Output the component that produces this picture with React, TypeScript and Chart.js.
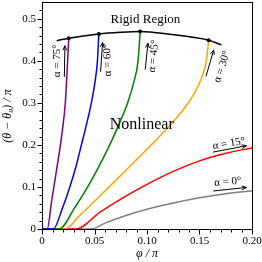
import { useEffect, useRef } from "react";
import { Chart, registerables } from "chart.js";
Chart.register(...registerables);

// ---- data (x = φ/π, y = (θ−θ0)/π) ----
const purpleX = [0, 0.005, 0.0093, 0.0146, 0.0192, 0.0222, 0.0240, 0.0255];
const purpleY = [0, 0, 0.069, 0.152, 0.23, 0.3, 0.38, 0.454];
const blueX = [0, 0.0108, 0.0195, 0.0265, 0.0325, 0.0375, 0.0425, 0.047, 0.0505, 0.0528, 0.0541];
const blueY = [0, 0, 0.05, 0.1, 0.15, 0.2, 0.25, 0.3, 0.35, 0.4, 0.464];
const greenX = [0, 0.0165, 0.031, 0.0435, 0.0545, 0.0645, 0.0735, 0.0815, 0.0875, 0.0915, 0.0935];
const greenY = [0, 0, 0.05, 0.1, 0.15, 0.2, 0.25, 0.3, 0.35, 0.4, 0.47];
const orangeX = [0, 0.022, 0.035, 0.05, 0.07, 0.09, 0.11, 0.125, 0.137, 0.146, 0.152, 0.1565, 0.1587];
const orangeY = [0, 0, 0.03, 0.066, 0.115, 0.165, 0.215, 0.255, 0.292, 0.327, 0.36, 0.4, 0.449];
const redX = [0, 0.032, 0.0553, 0.075, 0.1, 0.125, 0.15, 0.175, 0.2];
const redY = [0, 0, 0.04, 0.071, 0.106, 0.137, 0.162, 0.18, 0.193];
const grayX = [0, 0.047, 0.06, 0.08, 0.1, 0.125, 0.15, 0.175, 0.2];
const grayY = [0, 0, 0.014, 0.032, 0.047, 0.062, 0.0745, 0.084, 0.091];
const boundaryX = [0.014, 0.0255, 0.0541, 0.0744, 0.0935, 0.122, 0.1587, 0.171];
const boundaryY = [0.448, 0.454, 0.464, 0.468, 0.47, 0.463, 0.449, 0.438];
const boundaryMarked = [false, true, true, false, true, false, true, false];

const xTicks = [0, 0.05, 0.1, 0.15, 0.2];
const yTicks = [0, 0.1, 0.2, 0.3, 0.4, 0.5];
const xMinorTicks = [0.01, 0.02, 0.03, 0.04, 0.06, 0.07, 0.08, 0.09, 0.11, 0.12, 0.13, 0.14, 0.16, 0.17, 0.18, 0.19];
const yMinorTicks = [0.02, 0.04, 0.06, 0.08, 0.12, 0.14, 0.16, 0.18, 0.22, 0.24, 0.26, 0.28, 0.32, 0.34, 0.36, 0.38, 0.42, 0.44, 0.46, 0.48, 0.52];

const alphaLabels = ["α = 75°", "α = 60°", "α = 45°", "α = 30°", "α = 15°", "α = 0°"];
const regionLabels = ["Rigid Region", "Nonlinear"];
const xTitle = "φ / π";
const yTitle = "(θ − θ₀) / π";

// ---- layout of annotations (data coordinates) ----
const labelLayout = [
  { x: 0.0143, y: 0.4, rot: -90, tail: [0.0213, 0.362], tip: [0.0218, 0.436] },
  { x: 0.0625, y: 0.402, rot: -92, tail: [0.0558, 0.374], tip: [0.0577, 0.444] },
  { x: 0.1063, y: 0.411, rot: -84, tail: [0.0983, 0.379], tip: [0.1009, 0.442] },
  { x: 0.1715, y: 0.386, rot: -72, tail: [0.1562, 0.363], tip: [0.1635, 0.426] },
  { x: 0.178, y: 0.203, rot: -10, tail: [0.1629, 0.183], tip: [0.1947, 0.198] },
  { x: 0.177, y: 0.112, rot: -5, tail: [0.1632, 0.0905], tip: [0.1947, 0.0988] },
];
const regionLayout = [
  { x: 0.0985, y: 0.499, size: 13 },
  { x: 0.095, y: 0.249, size: 16 },
];

const SERIF = "'Liberation Serif', 'Times New Roman', serif";

function pts(xs: number[], ys: number[]) {
  return xs.map((x, i) => ({ x, y: ys[i] }));
}

const annotPlugin = {
  id: "annot",
  afterDatasetsDraw(chart: any) {
    const ctx = chart.ctx as CanvasRenderingContext2D;
    const xs = chart.scales.x;
    const ys = chart.scales.y;
    const a = chart.chartArea;
    const px = (v: number) => xs.getPixelForValue(v);
    const py = (v: number) => ys.getPixelForValue(v);
    ctx.save();
    // frame
    ctx.strokeStyle = "#000";
    ctx.lineWidth = 1;
    ctx.strokeRect(Math.round(a.left) + 0.5, Math.round(a.top) + 0.5, Math.round(a.right - a.left), Math.round(a.bottom - a.top));
    // ticks
    ctx.beginPath();
    const yb = Math.round(a.bottom) + 0.5;
    const xl = Math.round(a.left) + 0.5;
    xTicks.forEach((v) => { const x = Math.round(px(v)) + 0.5; ctx.moveTo(x, yb); ctx.lineTo(x, yb + 5); });
    xMinorTicks.forEach((v) => { const x = Math.round(px(v)) + 0.5; ctx.moveTo(x, yb); ctx.lineTo(x, yb + 3); });
    yTicks.forEach((v) => { const y = Math.round(py(v)) + 0.5; ctx.moveTo(xl, y); ctx.lineTo(xl - 5, y); });
    yMinorTicks.forEach((v) => { const y = Math.round(py(v)) + 0.5; ctx.moveTo(xl, y); ctx.lineTo(xl - 3, y); });
    ctx.stroke();

    ctx.fillStyle = "#000";
    ctx.textAlign = "center";
    ctx.textBaseline = "middle";
    // region labels
    regionLabels.forEach((t, i) => {
      const L = regionLayout[i];
      ctx.font = `${L.size}px ${SERIF}`;
      ctx.fillText(t, px(L.x), py(L.y));
    });
    // alpha labels + arrows
    alphaLabels.forEach((t, i) => {
      const L = labelLayout[i];
      ctx.save();
      ctx.translate(px(L.x), py(L.y));
      ctx.rotate((L.rot * Math.PI) / 180);
      ctx.font = `11px ${SERIF}`;
      ctx.fillText(t, 0, 0);
      ctx.restore();
      const x1 = px(L.tail[0]), y1 = py(L.tail[1]);
      const x2 = px(L.tip[0]), y2 = py(L.tip[1]);
      const ang = Math.atan2(y2 - y1, x2 - x1);
      ctx.beginPath();
      ctx.lineWidth = 1;
      ctx.moveTo(x1, y1);
      ctx.lineTo(x2, y2);
      const h = 5;
      ctx.moveTo(x2 - h * Math.cos(ang - 0.4), y2 - h * Math.sin(ang - 0.4));
      ctx.lineTo(x2, y2);
      ctx.lineTo(x2 - h * Math.cos(ang + 0.4), y2 - h * Math.sin(ang + 0.4));
      ctx.stroke();
    });
    // axis titles
    ctx.font = `italic 12px ${SERIF}`;
    ctx.fillText(xTitle, (a.left + a.right) / 2, 254);
    ctx.save();
    ctx.translate(8, 116);
    ctx.rotate(-Math.PI / 2);
    ctx.fillText(yTitle, 0, 0);
    ctx.restore();
    ctx.restore();
  },
};

export default function App() {
  const ref = useRef<HTMLCanvasElement | null>(null);
  useEffect(() => {
    if (!ref.current) return;
    const line = (data: any, color: string) => ({
      data,
      borderColor: color,
      backgroundColor: color,
      borderWidth: 1.5,
      pointRadius: 0,
      cubicInterpolationMode: "monotone",
      fill: false,
    });
    const chart = new Chart(ref.current, {
      type: "line",
      data: {
        datasets: [
          {
            data: pts(boundaryX, boundaryY),
            borderColor: "#000",
            backgroundColor: "#000",
            borderWidth: 1.5,
            pointRadius: (c: any) => (boundaryMarked[c.dataIndex] ? 2 : 0),
            pointBorderWidth: 0,
            cubicInterpolationMode: "monotone",
            fill: false,
          } as any,
          line(pts(purpleX, purpleY), "#800080"),
          line(pts(blueX, blueY), "#0000ff"),
          line(pts(greenX, greenY), "#008000"),
          line(pts(orangeX, orangeY), "#ffa500"),
          line(pts(redX, redY), "#ff0000"),
          line(pts(grayX, grayY), "#808080"),
        ] as any,
      },
      options: {
        animation: false,
        responsive: true,
        maintainAspectRatio: false,
        parsing: false as any,
        layout: { padding: { top: 2, right: 10, left: 0, bottom: 0 } },
        plugins: { legend: { display: false }, tooltip: { enabled: false } },
        scales: {
          x: {
            type: "linear",
            min: 0,
            max: 0.2,
            grid: { display: false, drawTicks: false },
            border: { display: false },
            afterBuildTicks: (s: any) => { s.ticks = xTicks.map((v) => ({ value: v })); },
            afterFit: (s: any) => { s.height = 33; s.paddingLeft = 0; s.paddingRight = 0; },
            ticks: {
              padding: 6,
              color: "#000",
              maxRotation: 0,
              font: { family: SERIF, size: 11 },
              callback: (v: any) => (Number(v) === 0 ? "0" : Number(v).toFixed(2)),
            },
          },
          y: {
            type: "linear",
            min: 0,
            max: 0.54,
            grid: { display: false, drawTicks: false },
            border: { display: false },
            afterBuildTicks: (s: any) => { s.ticks = yTicks.map((v) => ({ value: v })); },
            afterFit: (s: any) => { s.width = 42; s.paddingTop = 0; s.paddingBottom = 0; },
            ticks: {
              padding: 6,
              color: "#000",
              font: { family: SERIF, size: 11 },
              callback: (v: any) => (Number(v) === 0 ? "0" : Number(v).toFixed(1)),
            },
          },
        },
      } as any,
      plugins: [annotPlugin],
    });
    return () => chart.destroy();
  }, []);
  return (
    <div style={{ position: "fixed", left: 0, top: 0, width: 262, height: 262, background: "#fff" }}>
      <canvas ref={ref} />
    </div>
  );
}
